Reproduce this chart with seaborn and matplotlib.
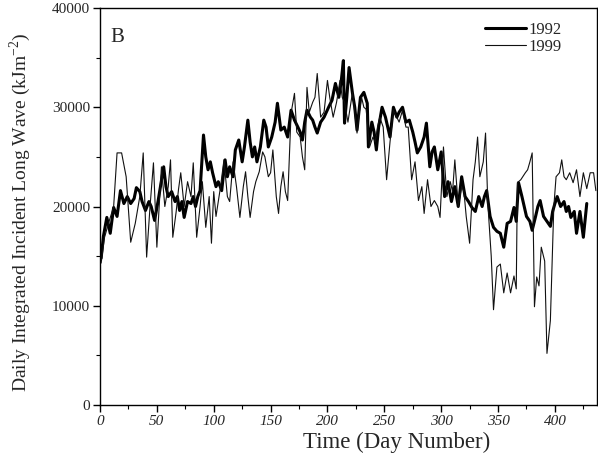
import matplotlib
matplotlib.use("Agg")
import matplotlib.pyplot as plt
import seaborn as sns
import numpy as np
from matplotlib.ticker import MultipleLocator, FixedLocator
from matplotlib.lines import Line2D

# ---------------- data ----------------
days_1992 = [1, 3, 6, 9, 12, 15, 18, 21, 24, 27, 30, 32, 35, 37, 40, 43, 45, 48, 51, 53,
             56, 58, 60, 63, 66, 68, 70, 72, 74, 77, 80, 82, 84, 86, 88, 91, 93, 95, 97, 99,
             102, 104, 107, 110, 112, 114, 117, 119, 122, 125, 127, 130, 132, 134, 136, 138, 141, 144, 146, 148,
             151, 154, 156, 159, 162, 165, 168, 171, 174, 176, 178, 180, 182, 185, 187, 189, 191, 194, 197, 199,
             201, 204, 207, 210, 212, 214, 215, 217, 219, 222, 224, 226, 229, 232, 235, 236, 239, 241, 243, 245,
             248, 251, 253, 255, 258, 261, 263, 266, 269, 272, 275, 277, 279, 282, 285, 287, 290, 292, 294, 297,
             300, 303, 306, 309, 312, 315, 318, 321, 324, 327, 330, 333, 336, 338, 340, 343, 346, 349, 352, 355,
             358, 361, 364, 366, 368, 371, 373, 375, 378, 380, 383, 385, 387, 390, 393, 396, 398, 400, 402, 405,
             408, 410, 412, 414, 417, 419, 422, 425, 428]
lw_1992 = [14800, 17000, 18900, 17300, 19900, 19000, 21600, 20300, 21000, 20300, 20800, 21900, 21500, 20500, 19600, 20500, 20000, 18600, 20500, 21900,
           24000, 22000, 21000, 21500, 20500, 21000, 19600, 20500, 18900, 20500, 20300, 21000, 20000, 21000, 21600, 27200, 25000, 23700, 24500, 23400,
           22000, 22500, 21600, 24700, 23000, 24000, 23000, 25700, 26700, 24500, 26000, 28700, 26500, 25000, 26000, 24500, 26000, 28700, 28000, 26000,
           27000, 28500, 30400, 27700, 28000, 27000, 29700, 28700, 28000, 27500, 26700, 28500, 29700, 29000, 28700, 28000, 27400, 28500, 29000, 29500,
           30000, 30700, 32400, 31000, 32500, 34700, 28400, 31000, 34000, 31400, 30000, 27700, 31000, 31500, 30400, 26000, 28500, 27500, 25700, 28000,
           30000, 29000, 28000, 27000, 30000, 29000, 29500, 30000, 28500, 28700, 27500, 26500, 25400, 26000, 27000, 28400, 24000, 25500, 26000, 23700,
           25500, 21000, 22500, 20500, 22000, 20000, 23000, 21000, 20500, 19900, 19500, 21000, 20000, 21000, 21600, 19000, 17900, 17500, 17300, 15900,
           18300, 18500, 19900, 18500, 22400, 21000, 20000, 19000, 18500, 17600, 19000, 20000, 20600, 19000, 18500, 18000, 19500, 20300, 21000, 20000,
           20500, 19500, 20000, 18900, 19500, 17300, 19500, 16900, 20300]

days_1999 = [1, 4, 8, 12, 15, 19, 23, 27, 31, 35, 38, 41, 44, 47, 50, 54, 57, 60, 62, 64,
             67, 69, 71, 74, 77, 80, 82, 85, 88, 90, 93, 96, 98, 100, 102, 106, 109, 112, 114, 117,
             120, 123, 126, 128, 130, 132, 135, 137, 140, 143, 145, 148, 150, 152, 155, 157, 159, 161, 163, 165,
             168, 171, 173, 176, 178, 180, 182, 184, 187, 189, 191, 194, 197, 200, 202, 205, 208, 211, 213, 215,
             218, 220, 222, 224, 226, 228, 230, 232, 234, 237, 240, 242, 244, 246, 249, 252, 255, 258, 261, 263,
             266, 269, 271, 274, 277, 280, 283, 285, 288, 291, 294, 297, 299, 302, 305, 308, 310, 312, 315, 318,
             320, 322, 325, 328, 330, 332, 334, 337, 339, 341, 344, 346, 349, 352, 355, 358, 361, 364, 366, 367,
             370, 374, 376, 378, 380, 382, 384, 386, 388, 391, 393, 396, 399, 401, 404, 406, 408, 410, 413, 416,
             419, 422, 425, 428, 431, 434, 436]
lw_1999 = [14300, 16900, 18500, 20000, 25400, 25400, 23000, 16400, 18300, 21000, 25400, 14900, 20000, 24400, 15900, 24000, 20000, 22000, 24700, 16900,
           19500, 21700, 23400, 20000, 22500, 21000, 24400, 16900, 20000, 22500, 17900, 21000, 16300, 21500, 19000, 22000, 24700, 21000, 20500, 24500,
           22000, 18900, 22000, 23500, 21000, 18900, 21500, 22500, 23500, 25500, 25000, 23000, 23400, 25700, 21000, 19300, 22000, 23500, 21500, 20600,
           29400, 31400, 27500, 27000, 25000, 23700, 32000, 29500, 30500, 31000, 33400, 29000, 29500, 32700, 31000, 29000, 30500, 32700, 31000, 30500,
           28500, 30000, 31500, 29500, 27400, 29500, 31000, 30000, 29800, 26000, 27000, 26500, 28000, 29000, 28000, 22700, 26500, 29700, 29000, 28500,
           29700, 28000, 28000, 22700, 24500, 20600, 22000, 19300, 22700, 20000, 20600, 20000, 18900, 26000, 21000, 22500, 21500, 24700, 20000, 22000,
           21500, 19000, 16300, 22700, 24500, 27000, 23000, 24500, 27400, 20300, 15000, 9600, 13900, 14200, 11300, 13300, 11300, 13000, 11700, 22400,
           22700, 23400, 23700, 24500, 25400, 9900, 12900, 12000, 15900, 14500, 5200, 8500, 19900, 23000, 23400, 24700, 23000, 22700, 23400, 22400,
           23700, 21000, 23400, 21800, 23400, 23400, 21600]

series_labels = ["1992", "1999"]
x_ticks = [0, 50, 100, 150, 200, 250, 300, 350, 400]
y_ticks = [0, 10000, 20000, 30000, 40000]

# ---------------- style ----------------
sns.set_theme(style="white")
plt.rcParams["font.family"] = ["Liberation Serif", "DejaVu Serif"]
plt.rcParams["mathtext.fontset"] = "custom"
plt.rcParams["mathtext.rm"] = "Liberation Serif"

fig = plt.figure(figsize=(5.98, 4.72), dpi=100)
ax = fig.add_axes([100 / 598, 1 - 405 / 472, 497 / 598, 397 / 472])

sns.lineplot(x=days_1992, y=lw_1992, ax=ax, color="black", linewidth=2.2,
             estimator=None, sort=False)
sns.lineplot(x=days_1999, y=lw_1999, ax=ax, color="#111111", linewidth=0.8,
             estimator=None, sort=False)

ax.set_xlim(0, 437)
ax.set_ylim(0, 40000)
ax.xaxis.set_major_locator(FixedLocator(x_ticks))
ax.xaxis.set_minor_locator(MultipleLocator(25))
ax.yaxis.set_major_locator(FixedLocator(y_ticks))
ax.yaxis.set_minor_locator(MultipleLocator(5000))
ax.set_xticklabels([str(t) for t in x_ticks], fontstyle="italic", fontsize=11)
ax.set_yticklabels([str(t) for t in y_ticks], fontsize=11)

ax.tick_params(axis="both", which="major", direction="out", length=5, width=1,
               color="black", bottom=True, left=True, pad=2)
ax.tick_params(axis="both", which="minor", direction="out", length=3, width=0.8,
               color="black", bottom=True, left=True)
for sp in ax.spines.values():
    sp.set_color("black")
    sp.set_linewidth(1.0)

ax.set_xlabel("Time (Day Number)", fontsize=16.5)
ax.xaxis.set_label_coords((397 - 100) / 497, -(442 - 405) / 397)
ax.xaxis.label.set_va("center")
ax.set_ylabel("Daily Integrated Incident Long Wave (kJm$^{-2}$)", fontsize=14)
ax.yaxis.set_label_coords(-(100 - 20) / 497, (405 - 212) / 397)
ax.yaxis.label.set_va("center")

ax.text((110 - 100) / 497, (405 - 38) / 397, "B", transform=ax.transAxes,
        fontsize=15, ha="left", va="center")

handles = [Line2D([], [], color="black", linewidth=2.2),
           Line2D([], [], color="#111111", linewidth=0.8)]
ax.legend(handles, series_labels, loc="upper right", frameon=False, fontsize=12,
          handlelength=2.5, handletextpad=0.15, labelspacing=0.05,
          borderpad=0, borderaxespad=0,
          bbox_to_anchor=((562 - 100) / 497, (405 - 22) / 397))

fig.savefig("out.png", dpi=100)
